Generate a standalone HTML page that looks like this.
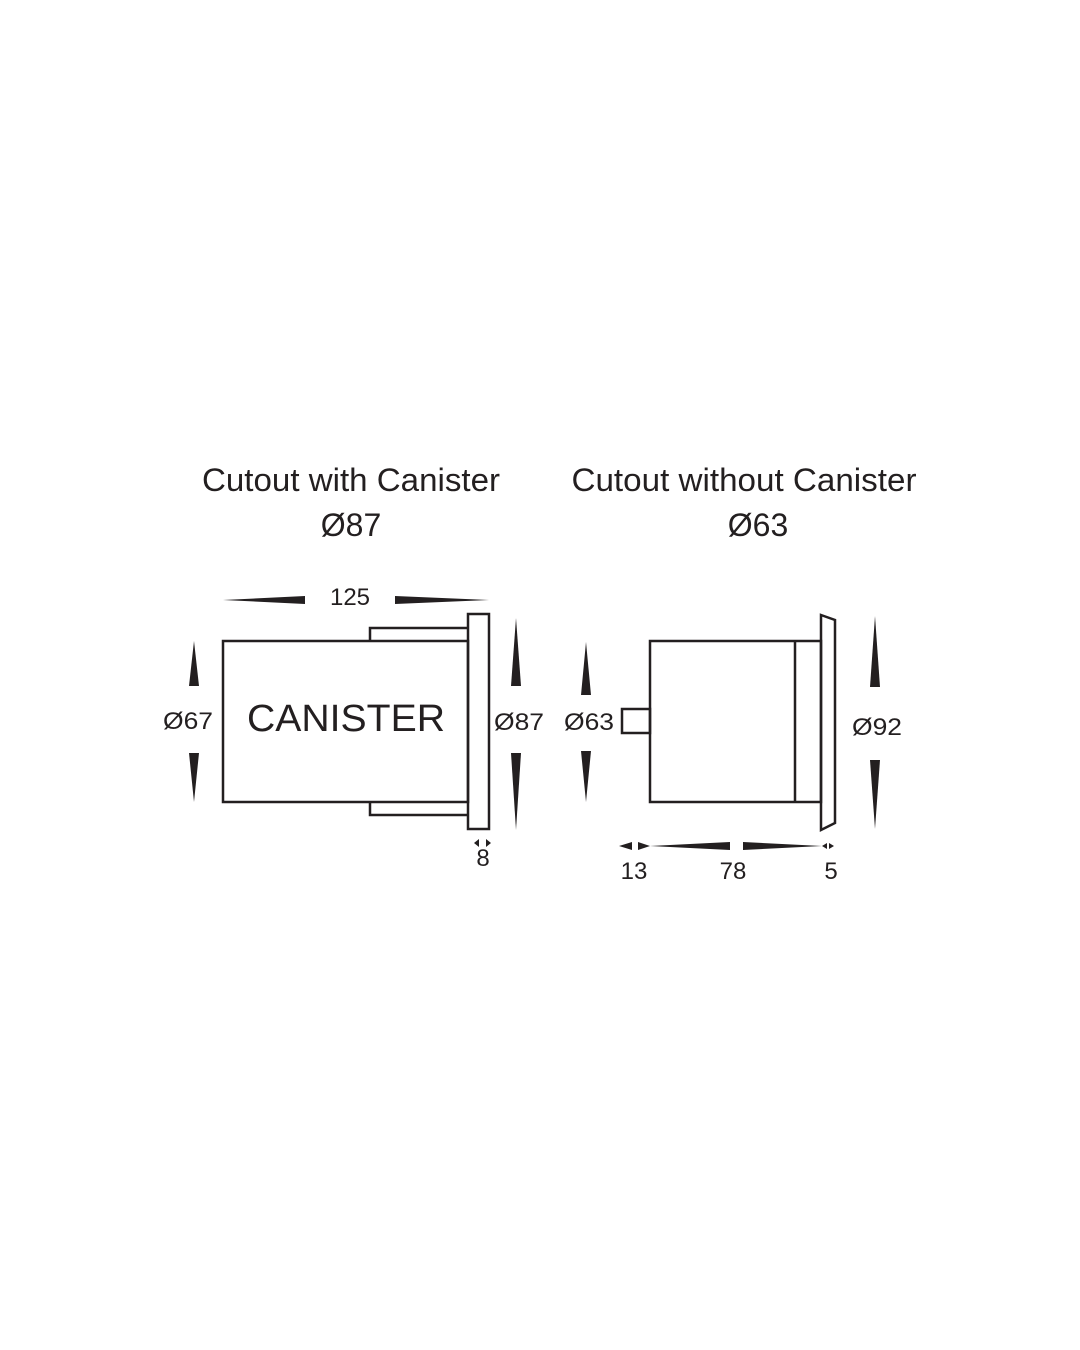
<!DOCTYPE html>
<html><head><meta charset="utf-8"><style>html,body{margin:0;padding:0;background:#fff}svg{display:block}</style></head><body>
<svg width="1080" height="1350" viewBox="0 0 1080 1350" xmlns="http://www.w3.org/2000/svg" font-family="Liberation Sans, Arial, sans-serif" fill="#231f20">
<rect width="1080" height="1350" fill="#fff"/>
<g font-size="32" text-anchor="middle">
<text x="351" y="491" textLength="298" lengthAdjust="spacingAndGlyphs">Cutout with Canister</text>
<text x="351" y="536">Ø87</text>
<text x="744" y="491" textLength="345" lengthAdjust="spacingAndGlyphs">Cutout without Canister</text>
<text x="758" y="536">Ø63</text>
</g>
<g fill="none" stroke="#231f20" stroke-width="2.5">
<rect x="223" y="641" width="245" height="161"/>
<polyline points="370,641 370,628 468,628"/>
<polyline points="370,802 370,815 468,815"/>
<rect x="468" y="614" width="21" height="215"/>
<rect x="650" y="641" width="171" height="161"/>
<line x1="795" y1="641" x2="795" y2="802"/>
<polygon points="821,615 835,620 835,823 821,830"/>
<rect x="622" y="709" width="28" height="24"/>
</g>
<text x="346" y="731" font-size="38" text-anchor="middle" textLength="198" lengthAdjust="spacingAndGlyphs">CANISTER</text>
<g font-size="24" text-anchor="middle">
<text x="350" y="605">125</text>
<text x="188" y="729" textLength="50" lengthAdjust="spacingAndGlyphs">Ø67</text>
<text x="519" y="730" textLength="50" lengthAdjust="spacingAndGlyphs">Ø87</text>
<text x="483" y="866">8</text>
<text x="589" y="730" textLength="50" lengthAdjust="spacingAndGlyphs">Ø63</text>
<text x="877" y="735" textLength="50" lengthAdjust="spacingAndGlyphs">Ø92</text>
<text x="634" y="879">13</text>
<text x="733" y="879">78</text>
<text x="831" y="879">5</text>
</g>
<g>
<polygon points="223,600 305,596 305,604"/>
<polygon points="489,600 395,596 395,604"/>
<polygon points="194,641 189,686 199,686"/>
<polygon points="194,802 189,753 199,753"/>
<polygon points="516,618 511,686 521,686"/>
<polygon points="516,830 511,753 521,753"/>
<polygon points="586,642 581,695 591,695"/>
<polygon points="586,802 581,751 591,751"/>
<polygon points="875,616 870,687 880,687"/>
<polygon points="875,829 870,760 880,760"/>
<polygon points="474,843 479,839 479,847"/>
<polygon points="491,843 486,839 486,847"/>
<polygon points="619,846 632,842 632,850"/>
<polygon points="650,846 638,842 638,850"/>
<polygon points="650,846 730,842 730,850"/>
<polygon points="822,846 743,842 743,850"/>
<polygon points="822,846 827,843 827,849"/>
<polygon points="834,846 829,843 829,849"/>
</g>
</svg>
</body></html>
